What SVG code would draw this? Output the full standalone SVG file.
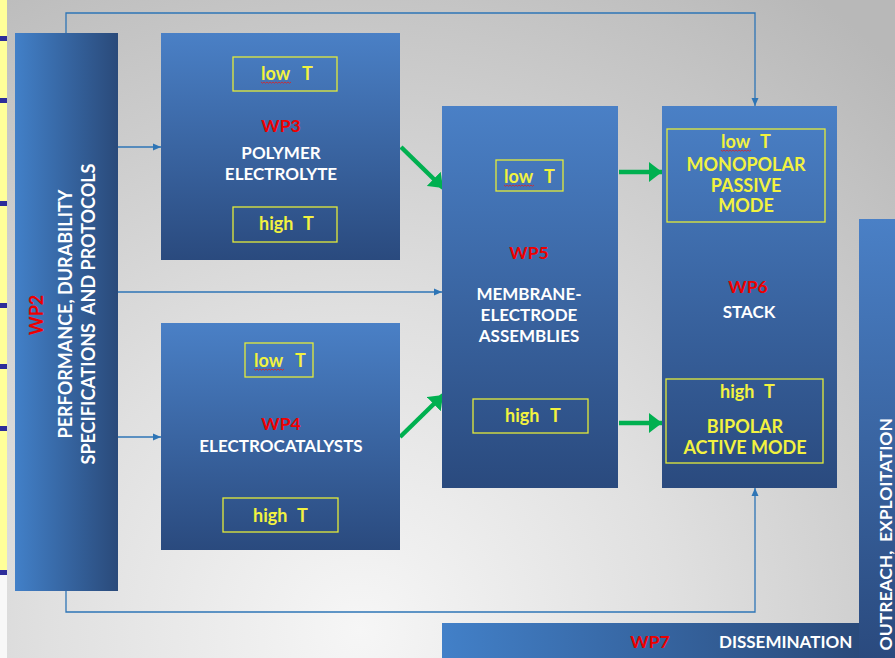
<svg xmlns="http://www.w3.org/2000/svg" xmlns:xlink="http://www.w3.org/1999/xlink" width="895" height="658" viewBox="0 0 895 658">
<defs>
  <radialGradient id="bg" gradientUnits="userSpaceOnUse" cx="360" cy="630" r="780">
    <stop offset="0" stop-color="#f6f6f6"/>
    <stop offset="0.4" stop-color="#e0e0e0"/>
    <stop offset="1" stop-color="#b8b8b8"/>
  </radialGradient>
  <linearGradient id="gV" x1="0" y1="0" x2="0" y2="1">
    <stop offset="0" stop-color="#4a80c6"/>
    <stop offset="1" stop-color="#2a4a7e"/>
  </linearGradient>
  <linearGradient id="gH" x1="0" y1="0" x2="1" y2="0">
    <stop offset="0" stop-color="#4280c8"/>
    <stop offset="1" stop-color="#2a4a7a"/>
  </linearGradient>
  <marker id="ab" viewBox="0 0 8 8" refX="8" refY="4" markerWidth="8" markerHeight="8" markerUnits="userSpaceOnUse" orient="auto">
    <path d="M0,0.5 L8,4 L0,7.5 z" fill="#2e75b6"/>
  </marker>
  <marker id="ag" viewBox="0 0 13 20" refX="13" refY="10" markerWidth="13" markerHeight="20" markerUnits="userSpaceOnUse" orient="auto">
    <path d="M0,0 L13,10 L0,20 z" fill="#00b050"/>
  </marker>
  <path id="wave" d="M0,0 l1.5,1.2 l1.5,-1.2 l1.5,1.2 l1.5,-1.2 l1.5,1.2 l1.5,-1.2 l1.5,1.2 l1.5,-1.2 l1.5,1.2 l1.5,-1.2 l1.5,1.2 l1.5,-1.2 l1.5,1.2 l1.5,-1.2 l1.5,1.2 l1.5,-1.2 l1.5,1.2 l1.5,-1.2 l1.5,1.2 l1.5,-1.2" fill="none" stroke="#e02020" stroke-width="0.8"/>
</defs>
<style>
  text { font-family: Lato, "Open Sans", "Liberation Sans", sans-serif; font-weight: bold; }
  .w { fill: #ffffff; font-size: 17px; text-anchor: middle; }
  .r { fill: #ee0000; font-size: 17.5px; text-anchor: middle; }
  .y { fill: #f2f240; font-size: 18px; }
  .yc { fill: #f2f240; font-size: 18px; text-anchor: middle; }
  .inner { fill: none; stroke: #e4ec3a; stroke-width: 1.3; }
  .conn { fill: none; stroke: #2e75b6; stroke-width: 1.3; }
  .green { fill: none; stroke: #00b050; stroke-width: 4.5; }
</style>

<rect x="0" y="0" width="895" height="658" fill="url(#bg)"/>
<rect x="0" y="573" width="7" height="85" fill="#f8f8f8"/>
<rect x="0" y="0" width="7" height="573" fill="#ffff99"/>
<g fill="#2d2d9a">
  <rect x="0" y="36" width="7" height="5"/>
  <rect x="0" y="98" width="7" height="5"/>
  <rect x="0" y="201" width="7" height="5"/>
  <rect x="0" y="303" width="7" height="5"/>
  <rect x="0" y="364" width="7" height="5"/>
  <rect x="0" y="426" width="7" height="5"/>
  <rect x="0" y="570" width="7" height="5"/>
</g>

<g id="connectors">
  <path class="conn" d="M66,33 V13 H755 V106" marker-end="url(#ab)"/>
  <path class="conn" d="M66,591 V612 H755 V488" marker-end="url(#ab)"/>
  <path class="conn" d="M118,147 H161" marker-end="url(#ab)"/>
  <path class="conn" d="M118,292 H442" marker-end="url(#ab)"/>
  <path class="conn" d="M118,437 H161" marker-end="url(#ab)"/>
  <path class="green" d="M401,147 L443,188" marker-end="url(#ag)"/>
  <path class="green" d="M400,437 L443,395" marker-end="url(#ag)"/>
  <path class="green" d="M619,172 H662" marker-end="url(#ag)"/>
  <path class="green" d="M619,423 H662" marker-end="url(#ag)"/>
</g>

<g id="wp2">
  <rect x="15" y="33" width="103" height="558" fill="url(#gH)"/>
  <text class="r" transform="translate(43,315) rotate(-90)" style="font-size:18px">WP2</text>
  <text class="w" transform="translate(72,314) rotate(-90)" style="font-size:18px">PERFORMANCE, DURABILITY</text>
  <text class="w" transform="translate(95,314) rotate(-90)" style="font-size:18px" xml:space="preserve">SPECIFICATIONS  AND PROTOCOLS</text>
</g>

<g id="wp3">
  <rect x="161" y="33" width="239" height="227" fill="url(#gV)"/>
  <rect class="inner" x="233" y="57" width="104" height="34"/>
  <text class="y" x="261" y="80">low <tspan x="302">T</tspan></text>
  <use xlink:href="#wave" x="261" y="82"/>
  <text class="r" x="281" y="132">WP3</text>
  <text class="w" x="281" y="159">POLYMER</text>
  <text class="w" x="281" y="180">ELECTROLYTE</text>
  <rect class="inner" x="233" y="207" width="104" height="35"/>
  <text class="y" x="259" y="230">high <tspan x="303">T</tspan></text>
</g>

<g id="wp4">
  <rect x="161" y="323" width="239" height="227" fill="url(#gV)"/>
  <rect class="inner" x="245" y="343" width="68" height="34"/>
  <text class="y" x="254" y="367">low <tspan x="295">T</tspan></text>
  <use xlink:href="#wave" x="254" y="369"/>
  <text class="r" x="281" y="430">WP4</text>
  <text class="w" x="281" y="452">ELECTROCATALYSTS</text>
  <rect class="inner" x="223" y="498" width="115" height="34"/>
  <text class="y" x="253" y="522">high <tspan x="297">T</tspan></text>
</g>

<g id="wp5">
  <rect x="442" y="106" width="176" height="382" fill="url(#gV)"/>
  <rect class="inner" x="496" y="160" width="67" height="31"/>
  <text class="y" x="504" y="183">low <tspan x="544">T</tspan></text>
  <use xlink:href="#wave" x="504" y="185"/>
  <text class="r" x="529" y="259">WP5</text>
  <text class="w" x="529" y="300">MEMBRANE-</text>
  <text class="w" x="529" y="321">ELECTRODE</text>
  <text class="w" x="529" y="342">ASSEMBLIES</text>
  <rect class="inner" x="473" y="399" width="115" height="34"/>
  <text class="y" x="505" y="422">high <tspan x="550">T</tspan></text>
</g>

<g id="wp6">
  <rect x="662" y="106" width="175" height="382" fill="url(#gV)"/>
  <rect class="inner" x="667" y="129" width="158" height="93"/>
  <text class="y" x="721" y="148">low <tspan x="760">T</tspan></text>
  <use xlink:href="#wave" x="721" y="150"/>
  <text class="yc" x="746" y="171">MONOPOLAR</text>
  <text class="yc" x="746" y="192">PASSIVE</text>
  <text class="yc" x="746" y="212">MODE</text>
  <text class="r" x="748" y="293">WP6</text>
  <text class="w" x="749" y="318">STACK</text>
  <rect class="inner" x="666" y="379" width="157" height="84"/>
  <text class="y" x="720" y="398">high <tspan x="764">T</tspan></text>
  <text class="yc" x="745" y="433">BIPOLAR</text>
  <text class="yc" x="745" y="454">ACTIVE MODE</text>
</g>

<g id="wp7">
  <rect x="442" y="623" width="418" height="35" fill="url(#gH)"/>
  <rect x="859" y="219" width="36" height="439" fill="url(#gV)"/>
  <text class="r" x="650" y="648">WP7</text>
  <text class="w" x="719" y="648" style="text-anchor:start">DISSEMINATION</text>
  <text class="w" transform="translate(892,418) rotate(-90)" style="text-anchor:end;font-size:17.5px" xml:space="preserve">OUTREACH,  EXPLOITATION</text>
</g>
</svg>
